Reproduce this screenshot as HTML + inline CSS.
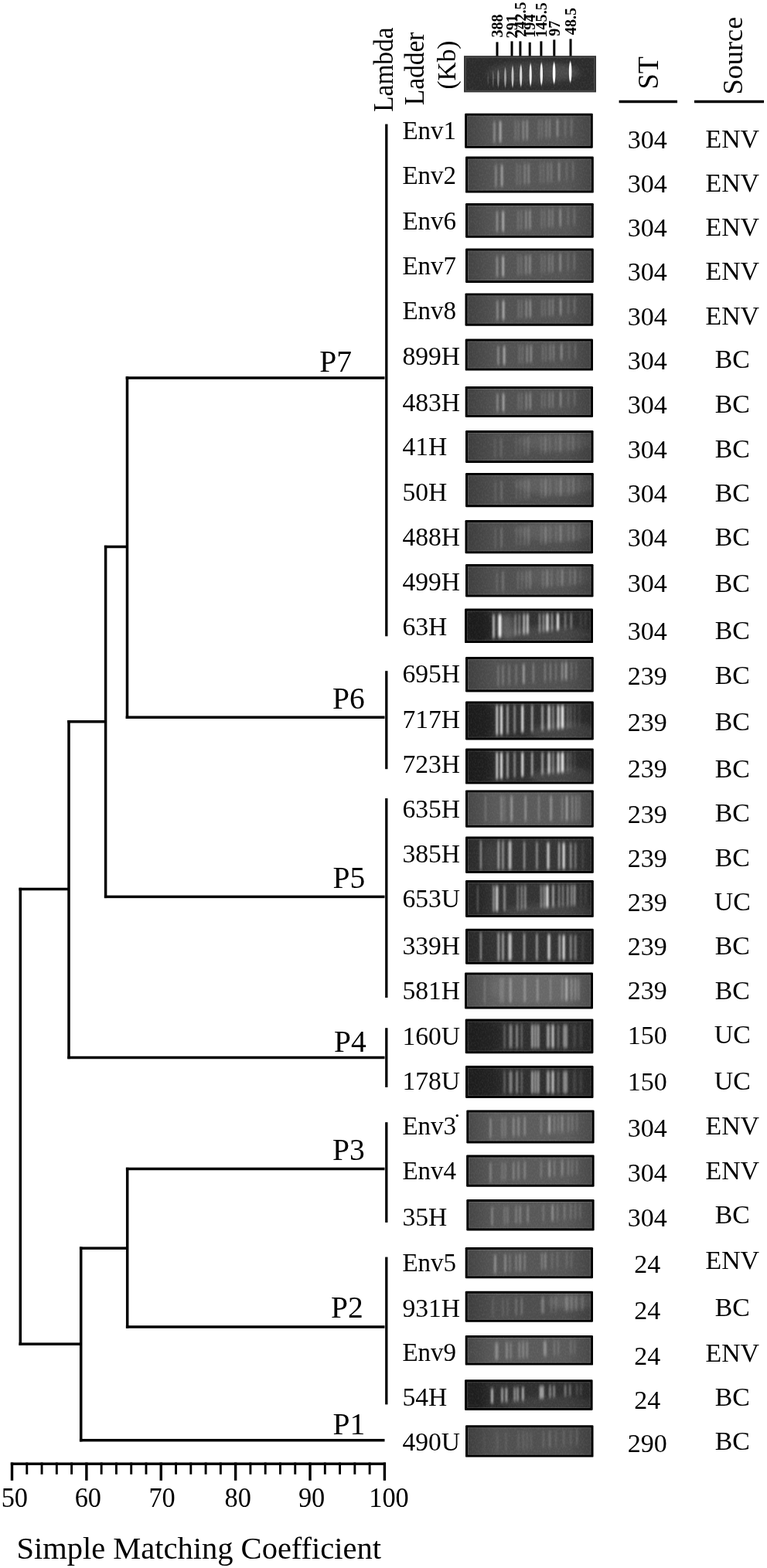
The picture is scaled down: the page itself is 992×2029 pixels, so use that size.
<!DOCTYPE html>
<html lang="en"><head><meta charset="utf-8"><title>PFGE dendrogram</title>
<style>html,body{margin:0;padding:0;background:#fff}svg{display:block}text{white-space:pre}</style>
</head><body>
<svg width="992" height="2029" viewBox="0 0 992 2029" font-family='"Liberation Serif", serif' fill="#000">
<defs><filter id="b" x="-20%" y="-20%" width="140%" height="140%"><feGaussianBlur stdDeviation="0.9 2.3"/></filter><linearGradient id="vg" x1="0" x2="1" y1="0" y2="0"><stop offset="0" stop-color="#000" stop-opacity=".22"/><stop offset=".22" stop-color="#000" stop-opacity="0"/><stop offset=".8" stop-color="#000" stop-opacity="0"/><stop offset="1" stop-color="#000" stop-opacity=".2"/></linearGradient><filter id="nz" x="0" y="0" width="100%" height="100%"><feTurbulence type="fractalNoise" baseFrequency="0.55 0.35" numOctaves="2" seed="7"/><feColorMatrix type="matrix" values="0 0 0 0 1  0 0 0 0 1  0 0 0 0 1  1.6 0 0 0 -0.62"/></filter><filter id="hz" x="-30%" y="-60%" width="160%" height="220%"><feGaussianBlur stdDeviation="5 3"/></filter><filter id="b2" x="-20%" y="-20%" width="140%" height="140%"><feGaussianBlur stdDeviation="0.7 1.8"/></filter></defs>
<rect width="100%" height="100%" fill="#fff"/>
<g id="tree">
<rect x="162.7" y="487.25" width="334.8" height="3.5"/>
<rect x="162.7" y="926.45" width="334.8" height="3.5"/>
<rect x="134.9" y="1158.65" width="362.6" height="3.5"/>
<rect x="87.3" y="1366.75" width="410.2" height="3.5"/>
<rect x="162.9" y="1510.75" width="334.6" height="3.5"/>
<rect x="162.9" y="1715.25" width="334.6" height="3.5"/>
<rect x="102.9" y="1861.95" width="394.6" height="3.5"/>
<rect x="162.75" y="487.2" width="3.5" height="442.8"/>
<rect x="134.9" y="705.75" width="29.6" height="3.5"/>
<rect x="134.85" y="705.8" width="3.5" height="456.3"/>
<rect x="87.3" y="932.05" width="49.3" height="3.5"/>
<rect x="87.25" y="932.0" width="3.5" height="438.2"/>
<rect x="24.5" y="1148.75" width="64.5" height="3.5"/>
<rect x="24.55" y="1148.8" width="3.5" height="592.2"/>
<rect x="24.5" y="1737.45" width="80.2" height="3.5"/>
<rect x="102.95" y="1613.5" width="3.5" height="251.9"/>
<rect x="102.9" y="1613.45" width="61.8" height="3.5"/>
<rect x="162.95" y="1510.8" width="3.5" height="208.0"/>
<rect x="498.15" y="160.6" width="3.3" height="662.7"/>
<rect x="498.15" y="868.2" width="3.3" height="127.0"/>
<rect x="498.15" y="1033.0" width="3.3" height="258.0"/>
<rect x="498.15" y="1330.2" width="3.3" height="76.7"/>
<rect x="498.15" y="1452.2" width="3.3" height="129.7"/>
<rect x="498.15" y="1626.6" width="3.3" height="190.8"/>
</g>
<text x="413.2" y="480.7" font-size="39.5" text-anchor="start">P7</text>
<text x="430.0" y="916.6" font-size="39.5" text-anchor="start">P6</text>
<text x="430.6" y="1149.4" font-size="39.5" text-anchor="start">P5</text>
<text x="432.0" y="1360.5" font-size="39.5" text-anchor="start">P4</text>
<text x="430.0" y="1500.6" font-size="39.5" text-anchor="start">P3</text>
<text x="428.0" y="1704.9" font-size="39.5" text-anchor="start">P2</text>
<text x="430.6" y="1856.1" font-size="39.5" text-anchor="start">P1</text>
<g id="axis">
<rect x="13.8" y="1892.50" width="485.2" height="3.4"/>
<rect x="13.80" y="1892.5" width="3.4" height="23.3"/>
<rect x="33.33" y="1892.5" width="2.9" height="15.3"/>
<rect x="52.60" y="1892.5" width="2.9" height="15.3"/>
<rect x="71.88" y="1892.5" width="2.9" height="15.3"/>
<rect x="91.15" y="1892.5" width="2.9" height="15.3"/>
<rect x="110.18" y="1892.5" width="3.4" height="23.3"/>
<rect x="129.71" y="1892.5" width="2.9" height="15.3"/>
<rect x="148.98" y="1892.5" width="2.9" height="15.3"/>
<rect x="168.26" y="1892.5" width="2.9" height="15.3"/>
<rect x="187.53" y="1892.5" width="2.9" height="15.3"/>
<rect x="206.56" y="1892.5" width="3.4" height="23.3"/>
<rect x="226.09" y="1892.5" width="2.9" height="15.3"/>
<rect x="245.36" y="1892.5" width="2.9" height="15.3"/>
<rect x="264.64" y="1892.5" width="2.9" height="15.3"/>
<rect x="283.91" y="1892.5" width="2.9" height="15.3"/>
<rect x="302.94" y="1892.5" width="3.4" height="23.3"/>
<rect x="322.47" y="1892.5" width="2.9" height="15.3"/>
<rect x="341.74" y="1892.5" width="2.9" height="15.3"/>
<rect x="361.02" y="1892.5" width="2.9" height="15.3"/>
<rect x="380.29" y="1892.5" width="2.9" height="15.3"/>
<rect x="399.32" y="1892.5" width="3.4" height="23.3"/>
<rect x="418.85" y="1892.5" width="2.9" height="15.3"/>
<rect x="438.12" y="1892.5" width="2.9" height="15.3"/>
<rect x="457.40" y="1892.5" width="2.9" height="15.3"/>
<rect x="476.67" y="1892.5" width="2.9" height="15.3"/>
<rect x="495.70" y="1892.5" width="3.4" height="23.3"/>
</g>
<text transform="translate(18.8,1949.8) scale(1,1.04)" font-size="34.3" text-anchor="middle">50</text>
<text transform="translate(113.8,1949.8) scale(1,1.04)" font-size="34.3" text-anchor="middle">60</text>
<text transform="translate(209.6,1949.8) scale(1,1.04)" font-size="34.3" text-anchor="middle">70</text>
<text transform="translate(307.7,1949.8) scale(1,1.04)" font-size="34.3" text-anchor="middle">80</text>
<text transform="translate(403.1,1949.8) scale(1,1.04)" font-size="34.3" text-anchor="middle">90</text>
<text transform="translate(503.0,1949.8) scale(1,1.04)" font-size="34.3" text-anchor="middle">100</text>
<text x="21.4" y="2016.8" font-size="40.5" text-anchor="start">Simple Matching Coefficient</text>
<text transform="translate(508.2,144.8) rotate(-90) scale(1.012,1.1)" font-size="33">Lambda</text>
<text transform="translate(548.4,136.2) rotate(-90) scale(1.012,1.08)" font-size="33">Ladder</text>
<text transform="translate(588.8,115.6) rotate(-90) scale(1.012,1.04)" font-size="33">(Kb)</text>
<text transform="translate(850.6,115.4) rotate(-90) scale(1,1.05)" font-size="36.3">ST</text>
<text transform="translate(960.0,122.5) rotate(-90)" font-size="36.3">Source</text>
<rect x="800.6" y="129.75" width="75.4" height="3.5"/>
<rect x="898.0" y="129.75" width="90.0" height="3.5"/>
<rect x="641.50" y="54.4" width="3.0" height="19.6"/>
<text transform="translate(649.8,48.6) rotate(-90)" font-size="20.2" font-weight="bold">388</text>
<rect x="660.50" y="53.4" width="3.0" height="20.6"/>
<text transform="translate(668.8,49.4) rotate(-90)" font-size="20.2" font-weight="bold">291</text>
<rect x="671.40" y="53.4" width="3.0" height="20.6"/>
<text transform="translate(679.7,47.8) rotate(-90)" font-size="20.2" font-weight="bold">242.5</text>
<rect x="683.70" y="54.8" width="3.0" height="19.2"/>
<text transform="translate(692.0,48.8) rotate(-90)" font-size="20.2" font-weight="bold">194</text>
<rect x="698.40" y="53.4" width="3.0" height="20.6"/>
<text transform="translate(706.7,48.6) rotate(-90)" font-size="20.2" font-weight="bold">145.5</text>
<rect x="715.30" y="51.4" width="3.0" height="22.6"/>
<text transform="translate(723.6,46.8) rotate(-90)" font-size="20.2" font-weight="bold">97</text>
<rect x="736.50" y="50.4" width="3.0" height="23.6"/>
<text transform="translate(744.8,45.2) rotate(-90)" font-size="20.2" font-weight="bold">48.5</text>
<g id="ladder">
<rect x="600" y="72.2" width="171" height="47.2" fill="#333"/>
<rect x="602.2" y="74.4" width="166.6" height="42.8" fill="#2b2b2b" stroke="#606060" stroke-width="0.7"/>
<clipPath id="cl"><rect x="602.6" y="74.8" width="165.8" height="42"/></clipPath>
<g clip-path="url(#cl)">
<g filter="url(#hz)"><ellipse cx="690" cy="94" rx="60" ry="14" fill="#fff" opacity=".09"/><ellipse cx="725" cy="93" rx="22" ry="10" fill="#fff" opacity=".06"/></g>
<rect x="602.6" y="74.8" width="165.8" height="42" fill="#fff" opacity=".10" filter="url(#nz)"/>
<g filter="url(#b2)" fill="#fff">
<ellipse cx="631.3" cy="102.9" rx="1.1" ry="7.1" opacity="0.12"/>
<ellipse cx="637.8" cy="102.2" rx="1.1" ry="10.1" opacity="0.2"/>
<ellipse cx="644.4" cy="101.5" rx="1.3" ry="11.3" opacity="0.38"/>
<ellipse cx="653.5" cy="100.3" rx="1.4" ry="12.5" opacity="0.5"/>
<ellipse cx="663.0" cy="99.1" rx="1.5" ry="13.7" opacity="0.68"/>
<ellipse cx="673.7" cy="97.9" rx="1.6" ry="13.9" opacity="0.8"/>
<ellipse cx="686.2" cy="96.7" rx="1.6" ry="14.2" opacity="0.9"/>
<ellipse cx="700.3" cy="95.8" rx="1.7" ry="14.2" opacity="0.95"/>
<ellipse cx="716.6" cy="94.4" rx="1.8" ry="13.7" opacity="1"/>
<ellipse cx="737.6" cy="93.0" rx="1.8" ry="13.2" opacity="1"/>
</g></g></g>
<g id="gels">
<clipPath id="c0"><rect x="604.1" y="149.7" width="159.7" height="39.1"/></clipPath>
<rect x="601.1" y="146.7" width="165.7" height="45.1" rx="1.2" fill="#000"/>
<rect x="604.1" y="149.7" width="159.7" height="39.1" fill="#555555"/>
<g clip-path="url(#c0)">
<g filter="url(#b)" fill="#fff">
<rect x="638.3" y="157.1" width="2.2" height="27.7" rx="1.1" opacity="0.38"/>
<rect x="645.8" y="156.8" width="2.6" height="27.3" rx="1.3" opacity="0.55"/>
<rect x="665.7" y="156.0" width="1.8" height="26.4" rx="0.9" opacity="0.20"/>
<rect x="669.7" y="155.8" width="1.8" height="26.2" rx="0.9" opacity="0.20"/>
<rect x="675.6" y="155.6" width="2.2" height="25.9" rx="1.1" opacity="0.32"/>
<rect x="680.5" y="155.3" width="2.4" height="25.7" rx="1.2" opacity="0.34"/>
<rect x="696.1" y="154.7" width="1.6" height="24.9" rx="0.8" opacity="0.20"/>
<rect x="700.1" y="154.5" width="1.6" height="24.7" rx="0.8" opacity="0.20"/>
<rect x="705.5" y="154.3" width="2.0" height="24.5" rx="1.0" opacity="0.26"/>
<rect x="710.0" y="154.1" width="2.0" height="24.3" rx="1.0" opacity="0.26"/>
<rect x="719.8" y="153.7" width="2.4" height="23.8" rx="1.2" opacity="0.34"/>
<rect x="730.2" y="153.3" width="1.8" height="23.3" rx="0.9" opacity="0.18"/>
<rect x="738.2" y="152.9" width="2.0" height="22.9" rx="1.0" opacity="0.22"/>
</g></g>
<rect x="604.1" y="149.7" width="159.7" height="39.1" fill="url(#vg)"/>
<rect x="604.1" y="149.7" width="159.7" height="39.1" fill="#fff" opacity=".09" filter="url(#nz)"/>
<rect x="604.6" y="150.2" width="158.7" height="38.1" fill="none" stroke="#fff" stroke-opacity=".16" stroke-width=".8"/>
<clipPath id="c1"><rect x="605.0" y="205.6" width="159.8" height="41.0"/></clipPath>
<rect x="602.0" y="202.6" width="165.8" height="47.0" rx="1.2" fill="#000"/>
<rect x="605.0" y="205.6" width="159.8" height="41.0" fill="#555555"/>
<g clip-path="url(#c1)">
<g filter="url(#b)" fill="#fff">
<rect x="640.3" y="213.3" width="2.2" height="28.9" rx="1.1" opacity="0.32"/>
<rect x="647.8" y="213.0" width="2.6" height="28.6" rx="1.3" opacity="0.47"/>
<rect x="667.7" y="212.1" width="1.8" height="27.6" rx="0.9" opacity="0.17"/>
<rect x="671.8" y="211.9" width="1.8" height="27.4" rx="0.9" opacity="0.17"/>
<rect x="677.6" y="211.6" width="2.2" height="27.1" rx="1.1" opacity="0.27"/>
<rect x="682.5" y="211.4" width="2.4" height="26.8" rx="1.2" opacity="0.29"/>
<rect x="698.1" y="210.8" width="1.6" height="26.0" rx="0.8" opacity="0.17"/>
<rect x="702.1" y="210.6" width="1.6" height="25.8" rx="0.8" opacity="0.17"/>
<rect x="707.5" y="210.3" width="2.0" height="25.6" rx="1.0" opacity="0.22"/>
<rect x="712.0" y="210.1" width="2.0" height="25.3" rx="1.0" opacity="0.22"/>
<rect x="721.9" y="209.7" width="2.4" height="24.8" rx="1.2" opacity="0.29"/>
<rect x="732.2" y="209.2" width="1.8" height="24.3" rx="0.9" opacity="0.15"/>
<rect x="740.2" y="208.9" width="2.0" height="23.9" rx="1.0" opacity="0.19"/>
</g></g>
<rect x="605.0" y="205.6" width="159.8" height="41.0" fill="url(#vg)"/>
<rect x="605.0" y="205.6" width="159.8" height="41.0" fill="#fff" opacity=".09" filter="url(#nz)"/>
<rect x="605.5" y="206.1" width="158.8" height="40.0" fill="none" stroke="#fff" stroke-opacity=".16" stroke-width=".8"/>
<clipPath id="c2"><rect x="605.0" y="266.0" width="159.8" height="38.8"/></clipPath>
<rect x="602.0" y="263.0" width="165.8" height="44.8" rx="1.2" fill="#000"/>
<rect x="605.0" y="266.0" width="159.8" height="38.8" fill="#555555"/>
<g clip-path="url(#c2)">
<g filter="url(#b)" fill="#fff">
<rect x="641.9" y="273.2" width="2.2" height="27.3" rx="1.1" opacity="0.38"/>
<rect x="649.4" y="272.9" width="2.6" height="26.9" rx="1.3" opacity="0.55"/>
<rect x="669.3" y="272.1" width="1.8" height="26.0" rx="0.9" opacity="0.20"/>
<rect x="673.4" y="271.9" width="1.8" height="25.8" rx="0.9" opacity="0.20"/>
<rect x="679.2" y="271.7" width="2.2" height="25.5" rx="1.1" opacity="0.32"/>
<rect x="684.2" y="271.4" width="2.4" height="25.3" rx="1.2" opacity="0.34"/>
<rect x="699.7" y="270.8" width="1.6" height="24.6" rx="0.8" opacity="0.20"/>
<rect x="703.7" y="270.6" width="1.6" height="24.4" rx="0.8" opacity="0.20"/>
<rect x="709.2" y="270.4" width="2.0" height="24.1" rx="1.0" opacity="0.26"/>
<rect x="713.6" y="270.2" width="2.0" height="23.9" rx="1.0" opacity="0.26"/>
<rect x="723.5" y="269.8" width="2.4" height="23.4" rx="1.2" opacity="0.34"/>
<rect x="733.9" y="269.4" width="1.8" height="22.9" rx="0.9" opacity="0.18"/>
<rect x="741.8" y="269.0" width="2.0" height="22.5" rx="1.0" opacity="0.22"/>
</g></g>
<rect x="605.0" y="266.0" width="159.8" height="38.8" fill="url(#vg)"/>
<rect x="605.0" y="266.0" width="159.8" height="38.8" fill="#fff" opacity=".09" filter="url(#nz)"/>
<rect x="605.5" y="266.5" width="158.8" height="37.8" fill="none" stroke="#fff" stroke-opacity=".16" stroke-width=".8"/>
<clipPath id="c3"><rect x="605.0" y="324.5" width="159.8" height="38.5"/></clipPath>
<rect x="602.0" y="321.5" width="165.8" height="44.5" rx="1.2" fill="#000"/>
<rect x="605.0" y="324.5" width="159.8" height="38.5" fill="#535353"/>
<g clip-path="url(#c3)">
<g filter="url(#b)" fill="#fff">
<rect x="641.9" y="331.7" width="2.2" height="27.1" rx="1.1" opacity="0.38"/>
<rect x="649.4" y="331.3" width="2.6" height="26.7" rx="1.3" opacity="0.55"/>
<rect x="669.3" y="330.5" width="1.8" height="25.8" rx="0.9" opacity="0.20"/>
<rect x="673.4" y="330.4" width="1.8" height="25.6" rx="0.9" opacity="0.20"/>
<rect x="679.2" y="330.1" width="2.2" height="25.3" rx="1.1" opacity="0.32"/>
<rect x="684.2" y="329.9" width="2.4" height="25.1" rx="1.2" opacity="0.34"/>
<rect x="699.7" y="329.3" width="1.6" height="24.4" rx="0.8" opacity="0.20"/>
<rect x="703.7" y="329.1" width="1.6" height="24.2" rx="0.8" opacity="0.20"/>
<rect x="709.2" y="328.9" width="2.0" height="23.9" rx="1.0" opacity="0.26"/>
<rect x="713.6" y="328.7" width="2.0" height="23.7" rx="1.0" opacity="0.26"/>
<rect x="723.5" y="328.3" width="2.4" height="23.2" rx="1.2" opacity="0.34"/>
<rect x="733.9" y="327.9" width="1.8" height="22.8" rx="0.9" opacity="0.18"/>
<rect x="741.8" y="327.5" width="2.0" height="22.4" rx="1.0" opacity="0.22"/>
</g></g>
<rect x="605.0" y="324.5" width="159.8" height="38.5" fill="url(#vg)"/>
<rect x="605.0" y="324.5" width="159.8" height="38.5" fill="#fff" opacity=".09" filter="url(#nz)"/>
<rect x="605.5" y="325.0" width="158.8" height="37.5" fill="none" stroke="#fff" stroke-opacity=".16" stroke-width=".8"/>
<clipPath id="c4"><rect x="604.5" y="382.4" width="159.8" height="36.3"/></clipPath>
<rect x="601.5" y="379.4" width="165.8" height="42.3" rx="1.2" fill="#000"/>
<rect x="604.5" y="382.4" width="159.8" height="36.3" fill="#515151"/>
<g clip-path="url(#c4)">
<g filter="url(#b)" fill="#fff">
<rect x="642.3" y="389.1" width="2.2" height="25.5" rx="1.1" opacity="0.40"/>
<rect x="649.8" y="388.8" width="2.6" height="25.2" rx="1.3" opacity="0.58"/>
<rect x="669.7" y="388.1" width="1.8" height="24.3" rx="0.9" opacity="0.21"/>
<rect x="673.8" y="387.9" width="1.8" height="24.1" rx="0.9" opacity="0.21"/>
<rect x="679.6" y="387.7" width="2.2" height="23.9" rx="1.1" opacity="0.34"/>
<rect x="684.6" y="387.5" width="2.4" height="23.6" rx="1.2" opacity="0.36"/>
<rect x="700.1" y="386.9" width="1.6" height="23.0" rx="0.8" opacity="0.21"/>
<rect x="704.1" y="386.7" width="1.6" height="22.8" rx="0.8" opacity="0.21"/>
<rect x="709.6" y="386.5" width="2.0" height="22.5" rx="1.0" opacity="0.27"/>
<rect x="714.0" y="386.3" width="2.0" height="22.3" rx="1.0" opacity="0.27"/>
<rect x="723.9" y="385.9" width="2.4" height="21.9" rx="1.2" opacity="0.36"/>
<rect x="734.3" y="385.5" width="1.8" height="21.4" rx="0.9" opacity="0.19"/>
<rect x="742.2" y="385.2" width="2.0" height="21.1" rx="1.0" opacity="0.23"/>
</g></g>
<rect x="604.5" y="382.4" width="159.8" height="36.3" fill="url(#vg)"/>
<rect x="604.5" y="382.4" width="159.8" height="36.3" fill="#fff" opacity=".09" filter="url(#nz)"/>
<rect x="605.0" y="382.9" width="158.8" height="35.3" fill="none" stroke="#fff" stroke-opacity=".16" stroke-width=".8"/>
<clipPath id="c5"><rect x="604.7" y="441.5" width="159.3" height="35.1"/></clipPath>
<rect x="601.7" y="438.5" width="165.3" height="41.1" rx="1.2" fill="#000"/>
<rect x="604.7" y="441.5" width="159.3" height="35.1" fill="#515151"/>
<g clip-path="url(#c5)">
<g filter="url(#b)" fill="#fff">
<rect x="643.3" y="448.0" width="2.2" height="24.6" rx="1.1" opacity="0.38"/>
<rect x="650.8" y="447.7" width="2.6" height="24.3" rx="1.3" opacity="0.55"/>
<rect x="670.8" y="446.9" width="1.8" height="23.5" rx="0.9" opacity="0.20"/>
<rect x="674.8" y="446.8" width="1.8" height="23.3" rx="0.9" opacity="0.20"/>
<rect x="680.6" y="446.6" width="2.2" height="23.0" rx="1.1" opacity="0.32"/>
<rect x="685.6" y="446.4" width="2.4" height="22.8" rx="1.2" opacity="0.34"/>
<rect x="701.1" y="445.8" width="1.6" height="22.2" rx="0.8" opacity="0.20"/>
<rect x="705.1" y="445.6" width="1.6" height="22.0" rx="0.8" opacity="0.20"/>
<rect x="710.6" y="445.4" width="2.0" height="21.7" rx="1.0" opacity="0.26"/>
<rect x="715.0" y="445.3" width="2.0" height="21.6" rx="1.0" opacity="0.26"/>
<rect x="724.9" y="444.9" width="2.4" height="21.1" rx="1.2" opacity="0.34"/>
<rect x="735.3" y="444.5" width="1.8" height="20.7" rx="0.9" opacity="0.18"/>
<rect x="743.2" y="444.2" width="2.0" height="20.3" rx="1.0" opacity="0.22"/>
</g></g>
<rect x="604.7" y="441.5" width="159.3" height="35.1" fill="url(#vg)"/>
<rect x="604.7" y="441.5" width="159.3" height="35.1" fill="#fff" opacity=".09" filter="url(#nz)"/>
<rect x="605.2" y="442.0" width="158.3" height="34.1" fill="none" stroke="#fff" stroke-opacity=".16" stroke-width=".8"/>
<clipPath id="c6"><rect x="604.7" y="503.0" width="159.3" height="33.9"/></clipPath>
<rect x="601.7" y="500.0" width="165.3" height="39.9" rx="1.2" fill="#000"/>
<rect x="604.7" y="503.0" width="159.3" height="33.9" fill="#515151"/>
<g clip-path="url(#c6)">
<g filter="url(#b)" fill="#fff">
<rect x="642.3" y="509.3" width="2.2" height="23.8" rx="1.1" opacity="0.36"/>
<rect x="649.8" y="509.0" width="2.6" height="23.5" rx="1.3" opacity="0.52"/>
<rect x="669.7" y="508.3" width="1.8" height="22.7" rx="0.9" opacity="0.19"/>
<rect x="673.8" y="508.1" width="1.8" height="22.5" rx="0.9" opacity="0.19"/>
<rect x="679.6" y="507.9" width="2.2" height="22.3" rx="1.1" opacity="0.30"/>
<rect x="684.6" y="507.7" width="2.4" height="22.1" rx="1.2" opacity="0.32"/>
<rect x="700.1" y="507.2" width="1.6" height="21.5" rx="0.8" opacity="0.19"/>
<rect x="704.1" y="507.0" width="1.6" height="21.3" rx="0.8" opacity="0.19"/>
<rect x="709.6" y="506.8" width="2.0" height="21.0" rx="1.0" opacity="0.25"/>
<rect x="714.0" y="506.7" width="2.0" height="20.9" rx="1.0" opacity="0.25"/>
<rect x="723.9" y="506.3" width="2.4" height="20.4" rx="1.2" opacity="0.32"/>
<rect x="734.3" y="505.9" width="1.8" height="20.0" rx="0.9" opacity="0.17"/>
<rect x="742.2" y="505.6" width="2.0" height="19.7" rx="1.0" opacity="0.21"/>
</g></g>
<rect x="604.7" y="503.0" width="159.3" height="33.9" fill="url(#vg)"/>
<rect x="604.7" y="503.0" width="159.3" height="33.9" fill="#fff" opacity=".09" filter="url(#nz)"/>
<rect x="605.2" y="503.5" width="158.3" height="32.9" fill="none" stroke="#fff" stroke-opacity=".16" stroke-width=".8"/>
<clipPath id="c7"><rect x="605.0" y="560.0" width="159.5" height="36.0"/></clipPath>
<rect x="602.0" y="557.0" width="165.5" height="42.0" rx="1.2" fill="#000"/>
<rect x="605.0" y="560.0" width="159.5" height="36.0" fill="#4d4d4d"/>
<g clip-path="url(#c7)">
<g filter="url(#hz)">
<ellipse cx="721.0" cy="570.8" rx="50" ry="12.6" fill="#fff" opacity="0.07"/>
</g>
<g filter="url(#b)" fill="#fff">
<rect x="639.3" y="566.8" width="2.2" height="25.5" rx="1.1" opacity="0.10"/>
<rect x="646.9" y="566.5" width="2.4" height="25.1" rx="1.2" opacity="0.16"/>
<rect x="666.6" y="565.7" width="2" height="24.3" rx="1.0" opacity="0.10"/>
<rect x="671.7" y="565.5" width="2" height="24.0" rx="1.0" opacity="0.10"/>
<rect x="677.2" y="565.3" width="2.2" height="23.8" rx="1.1" opacity="0.13"/>
<rect x="681.9" y="565.1" width="2.4" height="23.6" rx="1.2" opacity="0.16"/>
<rect x="698.9" y="564.5" width="2" height="22.8" rx="1.0" opacity="0.12"/>
<rect x="704.0" y="564.3" width="2.6" height="22.6" rx="1.3" opacity="0.19"/>
<rect x="710.0" y="564.1" width="2" height="22.3" rx="1.0" opacity="0.12"/>
<rect x="718.0" y="563.7" width="2" height="22.0" rx="1.0" opacity="0.10"/>
<rect x="723.4" y="563.5" width="2.6" height="21.7" rx="1.3" opacity="0.19"/>
<rect x="734.1" y="563.1" width="2.2" height="21.3" rx="1.1" opacity="0.12"/>
<rect x="739.9" y="562.9" width="2.6" height="21.0" rx="1.3" opacity="0.16"/>
<rect x="747.2" y="562.6" width="2.2" height="20.7" rx="1.1" opacity="0.08"/>
</g></g>
<rect x="605.0" y="560.0" width="159.5" height="36.0" fill="url(#vg)"/>
<rect x="605.0" y="560.0" width="159.5" height="36.0" fill="#fff" opacity=".09" filter="url(#nz)"/>
<rect x="605.5" y="560.5" width="158.5" height="35.0" fill="none" stroke="#fff" stroke-opacity=".16" stroke-width=".8"/>
<clipPath id="c8"><rect x="605.0" y="615.0" width="159.8" height="38.2"/></clipPath>
<rect x="602.0" y="612.0" width="165.8" height="44.2" rx="1.2" fill="#000"/>
<rect x="605.0" y="615.0" width="159.8" height="38.2" fill="#4d4d4d"/>
<g clip-path="url(#c8)">
<g filter="url(#hz)">
<ellipse cx="721.0" cy="626.5" rx="55" ry="13.4" fill="#fff" opacity="0.09"/>
</g>
<g filter="url(#b)" fill="#fff">
<rect x="639.7" y="622.2" width="2.2" height="27.0" rx="1.1" opacity="0.11"/>
<rect x="647.3" y="621.9" width="2.4" height="26.6" rx="1.2" opacity="0.18"/>
<rect x="667.0" y="621.1" width="2" height="25.7" rx="1.0" opacity="0.11"/>
<rect x="672.1" y="620.9" width="2" height="25.5" rx="1.0" opacity="0.11"/>
<rect x="677.6" y="620.6" width="2.2" height="25.2" rx="1.1" opacity="0.14"/>
<rect x="682.3" y="620.4" width="2.4" height="25.0" rx="1.2" opacity="0.18"/>
<rect x="699.3" y="619.7" width="2" height="24.2" rx="1.0" opacity="0.14"/>
<rect x="704.4" y="619.5" width="2.6" height="23.9" rx="1.3" opacity="0.22"/>
<rect x="710.4" y="619.3" width="2" height="23.7" rx="1.0" opacity="0.14"/>
<rect x="718.4" y="619.0" width="2" height="23.3" rx="1.0" opacity="0.11"/>
<rect x="723.8" y="618.7" width="2.6" height="23.0" rx="1.3" opacity="0.22"/>
<rect x="734.5" y="618.3" width="2.2" height="22.5" rx="1.1" opacity="0.14"/>
<rect x="740.3" y="618.0" width="2.6" height="22.3" rx="1.3" opacity="0.18"/>
<rect x="747.6" y="617.8" width="2.2" height="21.9" rx="1.1" opacity="0.09"/>
</g></g>
<rect x="605.0" y="615.0" width="159.8" height="38.2" fill="url(#vg)"/>
<rect x="605.0" y="615.0" width="159.8" height="38.2" fill="#fff" opacity=".09" filter="url(#nz)"/>
<rect x="605.5" y="615.5" width="158.8" height="37.2" fill="none" stroke="#fff" stroke-opacity=".16" stroke-width=".8"/>
<clipPath id="c9"><rect x="604.5" y="676.0" width="159.5" height="37.3"/></clipPath>
<rect x="601.5" y="673.0" width="165.5" height="43.3" rx="1.2" fill="#000"/>
<rect x="604.5" y="676.0" width="159.5" height="37.3" fill="#4d4d4d"/>
<g clip-path="url(#c9)">
<g filter="url(#hz)">
<ellipse cx="721.0" cy="687.2" rx="55" ry="13.1" fill="#fff" opacity="0.08"/>
</g>
<g filter="url(#b)" fill="#fff">
<rect x="639.7" y="683.0" width="2.2" height="26.4" rx="1.1" opacity="0.12"/>
<rect x="647.3" y="682.7" width="2.4" height="26.0" rx="1.2" opacity="0.20"/>
<rect x="667.0" y="681.9" width="2" height="25.1" rx="1.0" opacity="0.12"/>
<rect x="672.1" y="681.7" width="2" height="24.9" rx="1.0" opacity="0.12"/>
<rect x="677.6" y="681.5" width="2.2" height="24.6" rx="1.1" opacity="0.16"/>
<rect x="682.3" y="681.3" width="2.4" height="24.4" rx="1.2" opacity="0.20"/>
<rect x="699.3" y="680.6" width="2" height="23.6" rx="1.0" opacity="0.15"/>
<rect x="704.4" y="680.4" width="2.6" height="23.4" rx="1.3" opacity="0.24"/>
<rect x="710.4" y="680.2" width="2" height="23.1" rx="1.0" opacity="0.15"/>
<rect x="718.4" y="679.9" width="2" height="22.8" rx="1.0" opacity="0.12"/>
<rect x="723.8" y="679.6" width="2.6" height="22.5" rx="1.3" opacity="0.24"/>
<rect x="734.5" y="679.2" width="2.2" height="22.0" rx="1.1" opacity="0.15"/>
<rect x="740.3" y="679.0" width="2.6" height="21.7" rx="1.3" opacity="0.20"/>
<rect x="747.6" y="678.7" width="2.2" height="21.4" rx="1.1" opacity="0.10"/>
</g></g>
<rect x="604.5" y="676.0" width="159.5" height="37.3" fill="url(#vg)"/>
<rect x="604.5" y="676.0" width="159.5" height="37.3" fill="#fff" opacity=".09" filter="url(#nz)"/>
<rect x="605.0" y="676.5" width="158.5" height="36.3" fill="none" stroke="#fff" stroke-opacity=".16" stroke-width=".8"/>
<clipPath id="c10"><rect x="605.0" y="733.0" width="159.5" height="36.5"/></clipPath>
<rect x="602.0" y="730.0" width="165.5" height="42.5" rx="1.2" fill="#000"/>
<rect x="605.0" y="733.0" width="159.5" height="36.5" fill="#4f4f4f"/>
<g clip-path="url(#c10)">
<g filter="url(#hz)">
<ellipse cx="719.0" cy="745.8" rx="50" ry="12.8" fill="#fff" opacity="0.05"/>
</g>
<g filter="url(#b)" fill="#fff">
<rect x="641.7" y="739.8" width="2.2" height="25.7" rx="1.1" opacity="0.13"/>
<rect x="649.3" y="739.5" width="2.4" height="25.4" rx="1.2" opacity="0.22"/>
<rect x="669.0" y="738.7" width="2" height="24.5" rx="1.0" opacity="0.13"/>
<rect x="674.1" y="738.5" width="2" height="24.3" rx="1.0" opacity="0.13"/>
<rect x="679.6" y="738.3" width="2.2" height="24.0" rx="1.1" opacity="0.18"/>
<rect x="684.4" y="738.1" width="2.4" height="23.8" rx="1.2" opacity="0.22"/>
<rect x="701.3" y="737.5" width="2" height="23.0" rx="1.0" opacity="0.17"/>
<rect x="706.4" y="737.2" width="2.6" height="22.8" rx="1.3" opacity="0.26"/>
<rect x="712.4" y="737.0" width="2" height="22.5" rx="1.0" opacity="0.17"/>
<rect x="720.5" y="736.7" width="2" height="22.2" rx="1.0" opacity="0.13"/>
<rect x="725.8" y="736.5" width="2.6" height="21.9" rx="1.3" opacity="0.26"/>
<rect x="736.5" y="736.1" width="2.2" height="21.4" rx="1.1" opacity="0.17"/>
<rect x="742.3" y="735.8" width="2.6" height="21.2" rx="1.3" opacity="0.22"/>
<rect x="749.6" y="735.6" width="2.2" height="20.9" rx="1.1" opacity="0.11"/>
</g></g>
<rect x="605.0" y="733.0" width="159.5" height="36.5" fill="url(#vg)"/>
<rect x="605.0" y="733.0" width="159.5" height="36.5" fill="#fff" opacity=".09" filter="url(#nz)"/>
<rect x="605.5" y="733.5" width="158.5" height="35.5" fill="none" stroke="#fff" stroke-opacity=".16" stroke-width=".8"/>
<clipPath id="c11"><rect x="604.0" y="790.5" width="160.0" height="38.6"/></clipPath>
<rect x="601.0" y="787.5" width="166.0" height="44.6" rx="1.2" fill="#000"/>
<rect x="604.0" y="790.5" width="160.0" height="38.6" fill="#303030"/>
<g clip-path="url(#c11)">
<g filter="url(#hz)">
<ellipse cx="618.2" cy="809.8" rx="18" ry="27.0" fill="#000" opacity="0.35"/>
<ellipse cx="711.0" cy="821.4" rx="55" ry="11.6" fill="#fff" opacity="0.1"/>
<ellipse cx="655.5" cy="811.7" rx="9" ry="17.4" fill="#fff" opacity="0.22"/>
</g>
<g filter="url(#b)" fill="#fff">
<rect x="637.1" y="795.0" width="2.6" height="31.1" rx="1.3" opacity="0.70"/>
<rect x="644.5" y="794.8" width="4.0" height="30.2" rx="2.0" opacity="0.95"/>
<rect x="665.6" y="794.5" width="2" height="28.0" rx="1.0" opacity="0.45"/>
<rect x="670.7" y="794.4" width="2" height="27.5" rx="1.0" opacity="0.45"/>
<rect x="676.5" y="794.3" width="2.4" height="26.8" rx="1.2" opacity="0.70"/>
<rect x="680.9" y="794.2" width="2.8" height="26.3" rx="1.4" opacity="0.75"/>
<rect x="696.9" y="793.9" width="2" height="24.6" rx="1.0" opacity="0.50"/>
<rect x="701.9" y="793.8" width="2" height="24.0" rx="1.0" opacity="0.50"/>
<rect x="706.1" y="793.7" width="3.6" height="23.5" rx="1.8" opacity="0.75"/>
<rect x="713.0" y="793.6" width="2" height="22.8" rx="1.0" opacity="0.55"/>
<rect x="719.9" y="793.5" width="3.2" height="22.0" rx="1.6" opacity="0.85"/>
<rect x="730.1" y="793.3" width="2" height="20.9" rx="1.0" opacity="0.40"/>
<rect x="737.6" y="793.2" width="2.4" height="20.1" rx="1.2" opacity="0.40"/>
<rect x="750.3" y="793.0" width="2" height="18.7" rx="1.0" opacity="0.15"/>
<rect x="756.3" y="792.9" width="2" height="18.0" rx="1.0" opacity="0.15"/>
</g></g>
<rect x="604.0" y="790.5" width="160.0" height="38.6" fill="url(#vg)"/>
<rect x="604.0" y="790.5" width="160.0" height="38.6" fill="#fff" opacity=".09" filter="url(#nz)"/>
<rect x="604.5" y="791.0" width="159.0" height="37.6" fill="none" stroke="#fff" stroke-opacity=".16" stroke-width=".8"/>
<clipPath id="c12"><rect x="605.0" y="853.0" width="159.8" height="39.4"/></clipPath>
<rect x="602.0" y="850.0" width="165.8" height="45.4" rx="1.2" fill="#000"/>
<rect x="605.0" y="853.0" width="159.8" height="39.4" fill="#505050"/>
<g clip-path="url(#c12)">
<g filter="url(#b)" fill="#fff">
<rect x="643.4" y="860.3" width="2" height="27.7" rx="1.0" opacity="0.24"/>
<rect x="649.5" y="860.0" width="2" height="27.4" rx="1.0" opacity="0.28"/>
<rect x="657.5" y="859.7" width="2" height="27.0" rx="1.0" opacity="0.24"/>
<rect x="666.6" y="859.3" width="2" height="26.5" rx="1.0" opacity="0.22"/>
<rect x="676.0" y="858.9" width="2.6" height="26.1" rx="1.3" opacity="0.45"/>
<rect x="688.8" y="858.3" width="2" height="25.5" rx="1.0" opacity="0.28"/>
<rect x="703.9" y="857.7" width="2" height="24.7" rx="1.0" opacity="0.26"/>
<rect x="711.0" y="857.4" width="2" height="24.4" rx="1.0" opacity="0.24"/>
<rect x="718.0" y="857.1" width="2" height="24.1" rx="1.0" opacity="0.20"/>
<rect x="726.0" y="856.8" width="2.2" height="23.7" rx="1.1" opacity="0.36"/>
<rect x="730.8" y="856.5" width="2.6" height="23.4" rx="1.3" opacity="0.45"/>
<rect x="738.2" y="856.2" width="2" height="23.1" rx="1.0" opacity="0.20"/>
<rect x="744.2" y="856.0" width="2" height="22.8" rx="1.0" opacity="0.15"/>
</g></g>
<rect x="605.0" y="853.0" width="159.8" height="39.4" fill="url(#vg)"/>
<rect x="605.0" y="853.0" width="159.8" height="39.4" fill="#fff" opacity=".09" filter="url(#nz)"/>
<rect x="605.5" y="853.5" width="158.8" height="38.4" fill="none" stroke="#fff" stroke-opacity=".16" stroke-width=".8"/>
<clipPath id="c13"><rect x="605.0" y="910.5" width="159.8" height="44.0"/></clipPath>
<rect x="602.0" y="907.5" width="165.8" height="50.0" rx="1.2" fill="#000"/>
<rect x="605.0" y="910.5" width="159.8" height="44.0" fill="#2e2e2e"/>
<g clip-path="url(#c13)">
<g filter="url(#hz)">
<ellipse cx="618.2" cy="932.5" rx="20" ry="30.8" fill="#000" opacity="0.3"/>
<ellipse cx="731.1" cy="947.9" rx="45" ry="13.2" fill="#fff" opacity="0.1"/>
</g>
<g filter="url(#b)" fill="#fff">
<rect x="641.5" y="912.3" width="2.6" height="39.2" rx="1.3" opacity="0.80"/>
<rect x="647.0" y="912.3" width="3" height="38.6" rx="1.5" opacity="0.85"/>
<rect x="655.3" y="912.3" width="2.4" height="37.8" rx="1.2" opacity="0.60"/>
<rect x="664.5" y="912.3" width="2.2" height="36.9" rx="1.1" opacity="0.50"/>
<rect x="674.2" y="912.3" width="3" height="35.8" rx="1.5" opacity="0.85"/>
<rect x="687.0" y="912.3" width="2.4" height="34.6" rx="1.2" opacity="0.60"/>
<rect x="700.3" y="912.3" width="2.4" height="33.2" rx="1.2" opacity="0.60"/>
<rect x="708.4" y="912.3" width="3.2" height="32.4" rx="1.6" opacity="0.75"/>
<rect x="714.4" y="912.3" width="2" height="31.8" rx="1.0" opacity="0.50"/>
<rect x="720.6" y="912.3" width="3" height="31.1" rx="1.5" opacity="0.80"/>
<rect x="725.7" y="912.3" width="3.6" height="30.6" rx="1.8" opacity="0.90"/>
<rect x="733.2" y="912.3" width="2" height="29.9" rx="1.0" opacity="0.30"/>
<rect x="737.2" y="912.3" width="2" height="29.5" rx="1.0" opacity="0.25"/>
<rect x="742.2" y="912.3" width="2" height="29.0" rx="1.0" opacity="0.18"/>
<rect x="748.3" y="912.3" width="2" height="28.4" rx="1.0" opacity="0.12"/>
</g></g>
<rect x="605.0" y="910.5" width="159.8" height="44.0" fill="url(#vg)"/>
<rect x="605.0" y="910.5" width="159.8" height="44.0" fill="#fff" opacity=".09" filter="url(#nz)"/>
<rect x="605.5" y="911.0" width="158.8" height="43.0" fill="none" stroke="#fff" stroke-opacity=".16" stroke-width=".8"/>
<clipPath id="c14"><rect x="605.0" y="971.6" width="159.8" height="40.0"/></clipPath>
<rect x="602.0" y="968.6" width="165.8" height="46.0" rx="1.2" fill="#000"/>
<rect x="605.0" y="971.6" width="159.8" height="40.0" fill="#2e2e2e"/>
<g clip-path="url(#c14)">
<g filter="url(#hz)">
<ellipse cx="618.2" cy="991.6" rx="20" ry="28.0" fill="#000" opacity="0.3"/>
<ellipse cx="731.1" cy="1005.6" rx="45" ry="12.0" fill="#fff" opacity="0.1"/>
</g>
<g filter="url(#b)" fill="#fff">
<rect x="641.5" y="973.2" width="2.6" height="35.5" rx="1.3" opacity="0.80"/>
<rect x="647.0" y="973.2" width="3" height="34.9" rx="1.5" opacity="0.85"/>
<rect x="655.3" y="973.2" width="2.4" height="34.0" rx="1.2" opacity="0.60"/>
<rect x="664.5" y="973.2" width="2.2" height="33.1" rx="1.1" opacity="0.50"/>
<rect x="674.2" y="973.2" width="3" height="32.0" rx="1.5" opacity="0.85"/>
<rect x="687.0" y="973.2" width="2.4" height="30.7" rx="1.2" opacity="0.60"/>
<rect x="700.3" y="973.2" width="2.4" height="29.3" rx="1.2" opacity="0.60"/>
<rect x="708.4" y="973.2" width="3.2" height="28.4" rx="1.6" opacity="0.75"/>
<rect x="714.4" y="973.2" width="2" height="27.9" rx="1.0" opacity="0.50"/>
<rect x="720.6" y="973.2" width="3" height="27.2" rx="1.5" opacity="0.80"/>
<rect x="725.7" y="973.2" width="3.6" height="26.6" rx="1.8" opacity="0.90"/>
<rect x="733.2" y="973.2" width="2" height="25.9" rx="1.0" opacity="0.30"/>
<rect x="737.2" y="973.2" width="2" height="25.5" rx="1.0" opacity="0.22"/>
<rect x="742.2" y="973.2" width="2" height="25.0" rx="1.0" opacity="0.12"/>
</g></g>
<rect x="605.0" y="971.6" width="159.8" height="40.0" fill="url(#vg)"/>
<rect x="605.0" y="971.6" width="159.8" height="40.0" fill="#fff" opacity=".09" filter="url(#nz)"/>
<rect x="605.5" y="972.1" width="158.8" height="39.0" fill="none" stroke="#fff" stroke-opacity=".16" stroke-width=".8"/>
<clipPath id="c15"><rect x="605.0" y="1025.4" width="159.8" height="42.4"/></clipPath>
<rect x="602.0" y="1022.4" width="165.8" height="48.4" rx="1.2" fill="#000"/>
<rect x="605.0" y="1025.4" width="159.8" height="42.4" fill="#595959"/>
<g clip-path="url(#c15)">
<g filter="url(#b)" fill="#fff">
<rect x="626.9" y="1029.6" width="2" height="33.9" rx="1.0" opacity="0.22"/>
<rect x="647.2" y="1029.6" width="2.6" height="33.6" rx="1.3" opacity="0.25"/>
<rect x="651.5" y="1029.6" width="2" height="33.6" rx="1.0" opacity="0.15"/>
<rect x="660.1" y="1029.6" width="3" height="33.4" rx="1.5" opacity="0.35"/>
<rect x="678.4" y="1029.6" width="2.6" height="33.1" rx="1.3" opacity="0.32"/>
<rect x="695.8" y="1029.6" width="2.2" height="32.8" rx="1.1" opacity="0.22"/>
<rect x="711.1" y="1029.6" width="3" height="32.6" rx="1.5" opacity="0.32"/>
<rect x="726.1" y="1029.6" width="2" height="32.3" rx="1.0" opacity="0.20"/>
<rect x="731.8" y="1029.6" width="2.6" height="32.2" rx="1.3" opacity="0.42"/>
<rect x="739.2" y="1029.6" width="2" height="32.1" rx="1.0" opacity="0.30"/>
<rect x="744.2" y="1029.6" width="2" height="32.0" rx="1.0" opacity="0.30"/>
<rect x="748.3" y="1029.6" width="2" height="32.0" rx="1.0" opacity="0.25"/>
</g></g>
<rect x="605.0" y="1025.4" width="159.8" height="42.4" fill="url(#vg)"/>
<rect x="605.0" y="1025.4" width="159.8" height="42.4" fill="#fff" opacity=".09" filter="url(#nz)"/>
<rect x="605.5" y="1025.9" width="158.8" height="41.4" fill="none" stroke="#fff" stroke-opacity=".16" stroke-width=".8"/>
<clipPath id="c16"><rect x="605.0" y="1085.5" width="159.8" height="41.5"/></clipPath>
<rect x="602.0" y="1082.5" width="165.8" height="47.5" rx="1.2" fill="#000"/>
<rect x="605.0" y="1085.5" width="159.8" height="41.5" fill="#343434"/>
<g clip-path="url(#c16)">
<g filter="url(#hz)">
<ellipse cx="633.3" cy="1110.4" rx="10" ry="20.8" fill="#fff" opacity="0.06"/>
</g>
<g filter="url(#b)" fill="#fff">
<rect x="620.8" y="1087.2" width="2.2" height="38.6" rx="1.1" opacity="0.55"/>
<rect x="643.5" y="1087.6" width="2.6" height="38.0" rx="1.3" opacity="0.55"/>
<rect x="649.3" y="1087.8" width="2.4" height="37.8" rx="1.2" opacity="0.50"/>
<rect x="657.6" y="1088.1" width="4" height="37.5" rx="2.0" opacity="0.65"/>
<rect x="677.0" y="1088.7" width="2.2" height="36.8" rx="1.1" opacity="0.50"/>
<rect x="693.3" y="1089.2" width="2.2" height="36.1" rx="1.1" opacity="0.50"/>
<rect x="707.4" y="1089.7" width="3.2" height="35.6" rx="1.6" opacity="0.75"/>
<rect x="722.0" y="1090.1" width="2.2" height="35.0" rx="1.1" opacity="0.60"/>
<rect x="727.6" y="1090.3" width="3" height="34.8" rx="1.5" opacity="0.85"/>
<rect x="736.9" y="1090.6" width="2.6" height="34.5" rx="1.3" opacity="0.45"/>
<rect x="742.9" y="1090.8" width="2.6" height="34.2" rx="1.3" opacity="0.35"/>
<rect x="752.7" y="1091.1" width="2" height="33.9" rx="1.0" opacity="0.15"/>
</g></g>
<rect x="605.0" y="1085.5" width="159.8" height="41.5" fill="url(#vg)"/>
<rect x="605.0" y="1085.5" width="159.8" height="41.5" fill="#fff" opacity=".09" filter="url(#nz)"/>
<rect x="605.5" y="1086.0" width="158.8" height="40.5" fill="none" stroke="#fff" stroke-opacity=".16" stroke-width=".8"/>
<clipPath id="c17"><rect x="605.0" y="1142.0" width="159.8" height="42.0"/></clipPath>
<rect x="602.0" y="1139.0" width="165.8" height="48.0" rx="1.2" fill="#000"/>
<rect x="605.0" y="1142.0" width="159.8" height="42.0" fill="#323232"/>
<g clip-path="url(#c17)">
<g filter="url(#hz)">
<ellipse cx="618.2" cy="1163.0" rx="10" ry="29.4" fill="#000" opacity="0.15"/>
<ellipse cx="711.0" cy="1179.8" rx="60" ry="10.5" fill="#fff" opacity="0.08"/>
</g>
<g filter="url(#b)" fill="#fff">
<rect x="616.8" y="1146.2" width="2" height="34.4" rx="1.0" opacity="0.30"/>
<rect x="637.2" y="1146.1" width="2.4" height="33.9" rx="1.2" opacity="0.50"/>
<rect x="641.3" y="1146.0" width="3" height="33.6" rx="1.5" opacity="0.80"/>
<rect x="651.3" y="1145.9" width="2.4" height="33.0" rx="1.2" opacity="0.50"/>
<rect x="668.6" y="1145.7" width="2" height="31.9" rx="1.0" opacity="0.40"/>
<rect x="673.7" y="1145.6" width="2" height="31.6" rx="1.0" opacity="0.45"/>
<rect x="678.2" y="1145.6" width="2.2" height="31.3" rx="1.1" opacity="0.50"/>
<rect x="698.9" y="1145.3" width="2" height="29.9" rx="1.0" opacity="0.45"/>
<rect x="702.9" y="1145.2" width="2" height="29.7" rx="1.0" opacity="0.50"/>
<rect x="706.4" y="1145.2" width="3" height="29.4" rx="1.5" opacity="0.90"/>
<rect x="714.2" y="1145.1" width="2.4" height="28.9" rx="1.2" opacity="0.60"/>
<rect x="722.1" y="1145.0" width="2" height="28.4" rx="1.0" opacity="0.40"/>
<rect x="727.1" y="1144.9" width="2" height="28.1" rx="1.0" opacity="0.40"/>
<rect x="733.1" y="1144.9" width="2.2" height="27.7" rx="1.1" opacity="0.45"/>
<rect x="738.1" y="1144.8" width="2.2" height="27.4" rx="1.1" opacity="0.50"/>
<rect x="741.9" y="1144.7" width="2.6" height="27.1" rx="1.3" opacity="0.55"/>
<rect x="750.3" y="1144.6" width="2" height="26.6" rx="1.0" opacity="0.15"/>
<rect x="756.3" y="1144.6" width="2" height="26.2" rx="1.0" opacity="0.15"/>
</g></g>
<rect x="605.0" y="1142.0" width="159.8" height="42.0" fill="url(#vg)"/>
<rect x="605.0" y="1142.0" width="159.8" height="42.0" fill="#fff" opacity=".09" filter="url(#nz)"/>
<rect x="605.5" y="1142.5" width="158.8" height="41.0" fill="none" stroke="#fff" stroke-opacity=".16" stroke-width=".8"/>
<clipPath id="c18"><rect x="605.0" y="1204.7" width="159.8" height="40.1"/></clipPath>
<rect x="602.0" y="1201.7" width="165.8" height="46.1" rx="1.2" fill="#000"/>
<rect x="605.0" y="1204.7" width="159.8" height="40.1" fill="#323232"/>
<g clip-path="url(#c18)">
<g filter="url(#b)" fill="#fff">
<rect x="620.8" y="1206.3" width="2.2" height="37.3" rx="1.1" opacity="0.55"/>
<rect x="643.5" y="1206.8" width="2.6" height="36.7" rx="1.3" opacity="0.55"/>
<rect x="649.2" y="1206.9" width="2.6" height="36.4" rx="1.3" opacity="0.55"/>
<rect x="657.4" y="1207.2" width="4.4" height="36.0" rx="2.2" opacity="0.70"/>
<rect x="676.9" y="1207.8" width="2.4" height="35.2" rx="1.2" opacity="0.55"/>
<rect x="693.2" y="1208.3" width="2.4" height="34.5" rx="1.2" opacity="0.55"/>
<rect x="708.3" y="1208.8" width="3.4" height="33.8" rx="1.7" opacity="0.75"/>
<rect x="722.5" y="1209.2" width="2.4" height="33.2" rx="1.2" opacity="0.60"/>
<rect x="727.6" y="1209.4" width="3" height="33.0" rx="1.5" opacity="0.85"/>
<rect x="736.9" y="1209.6" width="2.6" height="32.6" rx="1.3" opacity="0.45"/>
<rect x="742.8" y="1209.8" width="2.8" height="32.4" rx="1.4" opacity="0.40"/>
<rect x="752.7" y="1210.1" width="2" height="32.0" rx="1.0" opacity="0.15"/>
</g></g>
<rect x="605.0" y="1204.7" width="159.8" height="40.1" fill="url(#vg)"/>
<rect x="605.0" y="1204.7" width="159.8" height="40.1" fill="#fff" opacity=".09" filter="url(#nz)"/>
<rect x="605.5" y="1205.2" width="158.8" height="39.1" fill="none" stroke="#fff" stroke-opacity=".16" stroke-width=".8"/>
<clipPath id="c19"><rect x="604.0" y="1261.5" width="160.0" height="41.0"/></clipPath>
<rect x="601.0" y="1258.5" width="166.0" height="47.0" rx="1.2" fill="#000"/>
<rect x="604.0" y="1261.5" width="160.0" height="41.0" fill="#5f5f5f"/>
<g clip-path="url(#c19)">
<g filter="url(#hz)">
<ellipse cx="690.8" cy="1277.9" rx="60" ry="20.5" fill="#fff" opacity="0.05"/>
</g>
<g filter="url(#b)" fill="#fff">
<rect x="625.9" y="1265.6" width="2" height="32.8" rx="1.0" opacity="0.22"/>
<rect x="646.5" y="1265.6" width="2" height="32.2" rx="1.0" opacity="0.20"/>
<rect x="649.5" y="1265.6" width="2" height="32.2" rx="1.0" opacity="0.20"/>
<rect x="658.7" y="1265.6" width="3" height="31.8" rx="1.5" opacity="0.32"/>
<rect x="677.4" y="1265.6" width="2.6" height="31.3" rx="1.3" opacity="0.30"/>
<rect x="694.0" y="1265.6" width="2.4" height="30.7" rx="1.2" opacity="0.30"/>
<rect x="711.0" y="1265.6" width="2" height="30.2" rx="1.0" opacity="0.20"/>
<rect x="726.1" y="1265.6" width="2" height="29.7" rx="1.0" opacity="0.20"/>
<rect x="731.4" y="1265.6" width="2.6" height="29.6" rx="1.3" opacity="0.50"/>
<rect x="738.1" y="1265.6" width="2.2" height="29.4" rx="1.1" opacity="0.30"/>
<rect x="743.1" y="1265.6" width="2.2" height="29.2" rx="1.1" opacity="0.32"/>
<rect x="747.2" y="1265.6" width="2.2" height="29.1" rx="1.1" opacity="0.28"/>
</g></g>
<rect x="604.0" y="1261.5" width="160.0" height="41.0" fill="url(#vg)"/>
<rect x="604.0" y="1261.5" width="160.0" height="41.0" fill="#fff" opacity=".09" filter="url(#nz)"/>
<rect x="604.5" y="1262.0" width="159.0" height="40.0" fill="none" stroke="#fff" stroke-opacity=".16" stroke-width=".8"/>
<clipPath id="c20"><rect x="604.7" y="1321.6" width="159.7" height="38.7"/></clipPath>
<rect x="601.7" y="1318.6" width="165.7" height="44.7" rx="1.2" fill="#000"/>
<rect x="604.7" y="1321.6" width="159.7" height="38.7" fill="#2e2e2e"/>
<g clip-path="url(#c20)">
<g filter="url(#hz)">
<ellipse cx="624.3" cy="1340.9" rx="24" ry="31.0" fill="#000" opacity="0.25"/>
</g>
<g filter="url(#b)" fill="#fff">
<rect x="651.5" y="1325.5" width="2" height="31.0" rx="1.0" opacity="0.30"/>
<rect x="658.6" y="1325.5" width="4" height="31.0" rx="2.0" opacity="0.40"/>
<rect x="667.3" y="1325.5" width="2.6" height="31.0" rx="1.3" opacity="0.45"/>
<rect x="673.7" y="1325.5" width="2" height="31.0" rx="1.0" opacity="0.30"/>
<rect x="687.2" y="1325.5" width="2.4" height="31.0" rx="1.2" opacity="0.65"/>
<rect x="691.3" y="1325.5" width="2.2" height="31.0" rx="1.1" opacity="0.60"/>
<rect x="695.0" y="1325.5" width="2.4" height="31.0" rx="1.2" opacity="0.60"/>
<rect x="707.0" y="1325.5" width="4" height="31.0" rx="2.0" opacity="0.50"/>
<rect x="713.4" y="1325.5" width="3.2" height="31.0" rx="1.6" opacity="0.70"/>
<rect x="720.6" y="1325.5" width="3" height="31.0" rx="1.5" opacity="0.25"/>
<rect x="728.1" y="1325.5" width="6" height="31.0" rx="3.0" opacity="0.42"/>
<rect x="741.2" y="1325.5" width="4" height="31.0" rx="2.0" opacity="0.12"/>
<rect x="749.3" y="1325.5" width="4" height="31.0" rx="2.0" opacity="0.10"/>
</g></g>
<rect x="604.7" y="1321.6" width="159.7" height="38.7" fill="url(#vg)"/>
<rect x="604.7" y="1321.6" width="159.7" height="38.7" fill="#fff" opacity=".09" filter="url(#nz)"/>
<rect x="605.2" y="1322.1" width="158.7" height="37.7" fill="none" stroke="#fff" stroke-opacity=".16" stroke-width=".8"/>
<clipPath id="c21"><rect x="605.0" y="1382.0" width="159.5" height="36.0"/></clipPath>
<rect x="602.0" y="1379.0" width="165.5" height="42.0" rx="1.2" fill="#000"/>
<rect x="605.0" y="1382.0" width="159.5" height="36.0" fill="#2e2e2e"/>
<g clip-path="url(#c21)">
<g filter="url(#hz)">
<ellipse cx="624.3" cy="1400.0" rx="24" ry="28.8" fill="#000" opacity="0.25"/>
</g>
<g filter="url(#b)" fill="#fff">
<rect x="651.5" y="1385.6" width="2" height="29.5" rx="1.0" opacity="0.30"/>
<rect x="658.6" y="1385.6" width="4" height="29.5" rx="2.0" opacity="0.40"/>
<rect x="667.3" y="1385.6" width="2.6" height="29.5" rx="1.3" opacity="0.45"/>
<rect x="673.7" y="1385.6" width="2" height="29.5" rx="1.0" opacity="0.30"/>
<rect x="687.2" y="1385.6" width="2.4" height="29.5" rx="1.2" opacity="0.65"/>
<rect x="691.3" y="1385.6" width="2.2" height="29.5" rx="1.1" opacity="0.60"/>
<rect x="695.0" y="1385.6" width="2.4" height="29.5" rx="1.2" opacity="0.60"/>
<rect x="707.0" y="1385.6" width="4" height="29.5" rx="2.0" opacity="0.50"/>
<rect x="713.4" y="1385.6" width="3.2" height="29.5" rx="1.6" opacity="0.70"/>
<rect x="720.6" y="1385.6" width="3" height="29.5" rx="1.5" opacity="0.25"/>
<rect x="728.1" y="1385.6" width="6" height="29.5" rx="3.0" opacity="0.42"/>
<rect x="741.2" y="1385.6" width="4" height="29.5" rx="2.0" opacity="0.12"/>
<rect x="749.3" y="1385.6" width="4" height="29.5" rx="2.0" opacity="0.10"/>
</g></g>
<rect x="605.0" y="1382.0" width="159.5" height="36.0" fill="url(#vg)"/>
<rect x="605.0" y="1382.0" width="159.5" height="36.0" fill="#fff" opacity=".09" filter="url(#nz)"/>
<rect x="605.5" y="1382.5" width="158.5" height="35.0" fill="none" stroke="#fff" stroke-opacity=".16" stroke-width=".8"/>
<clipPath id="c22"><rect x="606.3" y="1439.5" width="159.3" height="37.0"/></clipPath>
<rect x="603.3" y="1436.5" width="165.3" height="43.0" rx="1.2" fill="#000"/>
<rect x="606.3" y="1439.5" width="159.3" height="37.0" fill="#5b5b5b"/>
<g clip-path="url(#c22)">
<g filter="url(#b)" fill="#fff">
<rect x="633.2" y="1446.7" width="2.4" height="26.4" rx="1.2" opacity="0.32"/>
<rect x="648.5" y="1446.1" width="2" height="25.8" rx="1.0" opacity="0.22"/>
<rect x="652.5" y="1446.0" width="2" height="25.6" rx="1.0" opacity="0.22"/>
<rect x="663.0" y="1445.5" width="2.4" height="25.1" rx="1.2" opacity="0.30"/>
<rect x="669.4" y="1445.3" width="2.4" height="24.8" rx="1.2" opacity="0.30"/>
<rect x="677.5" y="1445.0" width="2.4" height="24.4" rx="1.2" opacity="0.30"/>
<rect x="698.8" y="1444.1" width="2.2" height="23.5" rx="1.1" opacity="0.20"/>
<rect x="709.4" y="1443.7" width="2.4" height="23.0" rx="1.2" opacity="0.50"/>
<rect x="716.0" y="1443.4" width="2" height="22.7" rx="1.0" opacity="0.22"/>
<rect x="721.1" y="1443.2" width="2" height="22.4" rx="1.0" opacity="0.18"/>
<rect x="725.9" y="1443.0" width="2.4" height="22.2" rx="1.2" opacity="0.30"/>
<rect x="734.2" y="1442.7" width="2" height="21.9" rx="1.0" opacity="0.22"/>
<rect x="739.2" y="1442.5" width="2" height="21.6" rx="1.0" opacity="0.22"/>
<rect x="745.2" y="1442.3" width="2" height="21.3" rx="1.0" opacity="0.20"/>
</g></g>
<rect x="606.3" y="1439.5" width="159.3" height="37.0" fill="url(#vg)"/>
<rect x="606.3" y="1439.5" width="159.3" height="37.0" fill="#fff" opacity=".09" filter="url(#nz)"/>
<rect x="606.8" y="1440.0" width="158.3" height="36.0" fill="none" stroke="#fff" stroke-opacity=".16" stroke-width=".8"/>
<clipPath id="c23"><rect x="606.1" y="1497.6" width="159.5" height="35.1"/></clipPath>
<rect x="603.1" y="1494.6" width="165.5" height="41.1" rx="1.2" fill="#000"/>
<rect x="606.1" y="1497.6" width="159.5" height="35.1" fill="#595959"/>
<g clip-path="url(#c23)">
<g filter="url(#b)" fill="#fff">
<rect x="633.2" y="1504.5" width="2.4" height="25.1" rx="1.2" opacity="0.30"/>
<rect x="648.5" y="1503.9" width="2" height="24.4" rx="1.0" opacity="0.20"/>
<rect x="652.5" y="1503.7" width="2" height="24.3" rx="1.0" opacity="0.20"/>
<rect x="663.0" y="1503.3" width="2.4" height="23.8" rx="1.2" opacity="0.25"/>
<rect x="669.4" y="1503.1" width="2.4" height="23.5" rx="1.2" opacity="0.25"/>
<rect x="677.5" y="1502.8" width="2.4" height="23.2" rx="1.2" opacity="0.28"/>
<rect x="698.8" y="1502.0" width="2.2" height="22.3" rx="1.1" opacity="0.20"/>
<rect x="709.4" y="1501.6" width="2.4" height="21.8" rx="1.2" opacity="0.38"/>
<rect x="716.0" y="1501.3" width="2" height="21.5" rx="1.0" opacity="0.22"/>
<rect x="725.9" y="1500.9" width="2.4" height="21.1" rx="1.2" opacity="0.30"/>
<rect x="734.2" y="1500.6" width="2" height="20.7" rx="1.0" opacity="0.22"/>
<rect x="739.2" y="1500.5" width="2" height="20.5" rx="1.0" opacity="0.20"/>
<rect x="745.2" y="1500.2" width="2" height="20.3" rx="1.0" opacity="0.20"/>
</g></g>
<rect x="606.1" y="1497.6" width="159.5" height="35.1" fill="url(#vg)"/>
<rect x="606.1" y="1497.6" width="159.5" height="35.1" fill="#fff" opacity=".09" filter="url(#nz)"/>
<rect x="606.6" y="1498.1" width="158.5" height="34.1" fill="none" stroke="#fff" stroke-opacity=".16" stroke-width=".8"/>
<clipPath id="c24"><rect x="606.3" y="1555.0" width="159.3" height="34.4"/></clipPath>
<rect x="603.3" y="1552.0" width="165.3" height="40.4" rx="1.2" fill="#000"/>
<rect x="606.3" y="1555.0" width="159.3" height="34.4" fill="#575757"/>
<g clip-path="url(#c24)">
<g filter="url(#b)" fill="#fff">
<rect x="635.2" y="1561.6" width="2.4" height="24.5" rx="1.2" opacity="0.30"/>
<rect x="651.5" y="1561.0" width="2" height="23.8" rx="1.0" opacity="0.20"/>
<rect x="655.5" y="1560.9" width="2" height="23.6" rx="1.0" opacity="0.22"/>
<rect x="666.5" y="1560.5" width="2.2" height="23.2" rx="1.1" opacity="0.25"/>
<rect x="671.6" y="1560.3" width="2.2" height="23.0" rx="1.1" opacity="0.28"/>
<rect x="681.6" y="1559.9" width="2.2" height="22.5" rx="1.1" opacity="0.28"/>
<rect x="701.8" y="1559.2" width="2.2" height="21.7" rx="1.1" opacity="0.18"/>
<rect x="713.4" y="1558.7" width="2.4" height="21.2" rx="1.2" opacity="0.38"/>
<rect x="720.0" y="1558.5" width="2" height="20.9" rx="1.0" opacity="0.18"/>
<rect x="729.0" y="1558.2" width="2.2" height="20.5" rx="1.1" opacity="0.22"/>
<rect x="737.2" y="1557.9" width="2" height="20.2" rx="1.0" opacity="0.20"/>
<rect x="743.2" y="1557.6" width="2" height="19.9" rx="1.0" opacity="0.20"/>
<rect x="749.3" y="1557.4" width="2" height="19.7" rx="1.0" opacity="0.20"/>
</g></g>
<rect x="606.3" y="1555.0" width="159.3" height="34.4" fill="url(#vg)"/>
<rect x="606.3" y="1555.0" width="159.3" height="34.4" fill="#fff" opacity=".09" filter="url(#nz)"/>
<rect x="606.8" y="1555.5" width="158.3" height="33.4" fill="none" stroke="#fff" stroke-opacity=".16" stroke-width=".8"/>
<clipPath id="c25"><rect x="604.7" y="1617.0" width="159.3" height="34.3"/></clipPath>
<rect x="601.7" y="1614.0" width="165.3" height="40.3" rx="1.2" fill="#000"/>
<rect x="604.7" y="1617.0" width="159.3" height="34.3" fill="#555555"/>
<g clip-path="url(#c25)">
<g filter="url(#b)" fill="#fff">
<rect x="638.9" y="1623.5" width="3" height="24.3" rx="1.5" opacity="0.32"/>
<rect x="652.2" y="1623.0" width="2.6" height="23.7" rx="1.3" opacity="0.30"/>
<rect x="658.6" y="1622.8" width="2" height="23.4" rx="1.0" opacity="0.20"/>
<rect x="666.5" y="1622.5" width="2.2" height="23.1" rx="1.1" opacity="0.25"/>
<rect x="671.5" y="1622.3" width="2.4" height="22.9" rx="1.2" opacity="0.30"/>
<rect x="677.6" y="1622.1" width="2.2" height="22.6" rx="1.1" opacity="0.25"/>
<rect x="699.8" y="1621.2" width="2.2" height="21.7" rx="1.1" opacity="0.25"/>
<rect x="704.1" y="1621.1" width="2.4" height="21.5" rx="1.2" opacity="0.30"/>
<rect x="713.0" y="1620.8" width="2" height="21.2" rx="1.0" opacity="0.15"/>
<rect x="720.0" y="1620.5" width="2" height="20.9" rx="1.0" opacity="0.15"/>
<rect x="732.1" y="1620.0" width="2" height="20.3" rx="1.0" opacity="0.15"/>
<rect x="738.2" y="1619.8" width="2" height="20.1" rx="1.0" opacity="0.15"/>
</g></g>
<rect x="604.7" y="1617.0" width="159.3" height="34.3" fill="url(#vg)"/>
<rect x="604.7" y="1617.0" width="159.3" height="34.3" fill="#fff" opacity=".09" filter="url(#nz)"/>
<rect x="605.2" y="1617.5" width="158.3" height="33.3" fill="none" stroke="#fff" stroke-opacity=".16" stroke-width=".8"/>
<clipPath id="c26"><rect x="604.7" y="1673.8" width="159.3" height="34.0"/></clipPath>
<rect x="601.7" y="1670.8" width="165.3" height="40.0" rx="1.2" fill="#000"/>
<rect x="604.7" y="1673.8" width="159.3" height="34.0" fill="#4d4d4d"/>
<g clip-path="url(#c26)">
<g filter="url(#hz)">
<ellipse cx="739.2" cy="1684.0" rx="30" ry="10.2" fill="#fff" opacity="0.1"/>
</g>
<g filter="url(#b)" fill="#fff">
<rect x="636.4" y="1680.3" width="2" height="24.2" rx="1.0" opacity="0.12"/>
<rect x="649.5" y="1679.8" width="2" height="23.6" rx="1.0" opacity="0.12"/>
<rect x="655.5" y="1679.6" width="2" height="23.4" rx="1.0" opacity="0.12"/>
<rect x="666.4" y="1679.2" width="2.4" height="22.9" rx="1.2" opacity="0.20"/>
<rect x="673.5" y="1679.0" width="2.4" height="22.6" rx="1.2" opacity="0.22"/>
<rect x="699.9" y="1678.0" width="4" height="21.5" rx="2.0" opacity="0.25"/>
<rect x="712.0" y="1677.6" width="2" height="21.0" rx="1.0" opacity="0.15"/>
<rect x="718.0" y="1677.3" width="2" height="20.8" rx="1.0" opacity="0.15"/>
<rect x="731.1" y="1676.8" width="4" height="20.2" rx="2.0" opacity="0.20"/>
<rect x="737.7" y="1676.6" width="3" height="19.9" rx="1.5" opacity="0.20"/>
<rect x="743.7" y="1676.4" width="3" height="19.7" rx="1.5" opacity="0.20"/>
<rect x="751.8" y="1676.1" width="3" height="19.3" rx="1.5" opacity="0.18"/>
</g></g>
<rect x="604.7" y="1673.8" width="159.3" height="34.0" fill="url(#vg)"/>
<rect x="604.7" y="1673.8" width="159.3" height="34.0" fill="#fff" opacity=".09" filter="url(#nz)"/>
<rect x="605.2" y="1674.3" width="158.3" height="33.0" fill="none" stroke="#fff" stroke-opacity=".16" stroke-width=".8"/>
<clipPath id="c27"><rect x="604.7" y="1730.9" width="159.3" height="32.7"/></clipPath>
<rect x="601.7" y="1727.9" width="165.3" height="38.7" rx="1.2" fill="#000"/>
<rect x="604.7" y="1730.9" width="159.3" height="32.7" fill="#595959"/>
<g clip-path="url(#c27)">
<g filter="url(#b)" fill="#fff">
<rect x="640.4" y="1737.0" width="4" height="23.0" rx="2.0" opacity="0.30"/>
<rect x="654.2" y="1736.5" width="2.6" height="22.5" rx="1.3" opacity="0.30"/>
<rect x="659.5" y="1736.4" width="2.2" height="22.3" rx="1.1" opacity="0.25"/>
<rect x="670.5" y="1736.0" width="2.4" height="21.9" rx="1.2" opacity="0.25"/>
<rect x="675.5" y="1735.8" width="2.4" height="21.7" rx="1.2" opacity="0.30"/>
<rect x="680.5" y="1735.6" width="2.4" height="21.5" rx="1.2" opacity="0.28"/>
<rect x="702.9" y="1734.8" width="4" height="20.5" rx="2.0" opacity="0.32"/>
<rect x="716.0" y="1734.4" width="2" height="20.0" rx="1.0" opacity="0.18"/>
<rect x="721.1" y="1734.2" width="2" height="19.8" rx="1.0" opacity="0.18"/>
<rect x="737.1" y="1733.6" width="2.2" height="19.2" rx="1.1" opacity="0.18"/>
<rect x="742.1" y="1733.5" width="2.2" height="19.0" rx="1.1" opacity="0.15"/>
</g></g>
<rect x="604.7" y="1730.9" width="159.3" height="32.7" fill="url(#vg)"/>
<rect x="604.7" y="1730.9" width="159.3" height="32.7" fill="#fff" opacity=".09" filter="url(#nz)"/>
<rect x="605.2" y="1731.4" width="158.3" height="31.7" fill="none" stroke="#fff" stroke-opacity=".16" stroke-width=".8"/>
<clipPath id="c28"><rect x="604.0" y="1788.2" width="159.6" height="33.8"/></clipPath>
<rect x="601.0" y="1785.2" width="165.6" height="39.8" rx="1.2" fill="#000"/>
<rect x="604.0" y="1788.2" width="159.6" height="33.8" fill="#2e2e2e"/>
<g clip-path="url(#c28)">
<g filter="url(#hz)">
<ellipse cx="616.2" cy="1805.1" rx="14" ry="23.7" fill="#000" opacity="0.25"/>
<ellipse cx="711.0" cy="1816.9" rx="60" ry="10.1" fill="#fff" opacity="0.07"/>
</g>
<g filter="url(#b)" fill="#fff">
<rect x="634.9" y="1796.3" width="3" height="20.0" rx="1.5" opacity="0.65"/>
<rect x="648.3" y="1795.7" width="2.4" height="19.4" rx="1.2" opacity="0.60"/>
<rect x="653.6" y="1795.4" width="2.6" height="19.1" rx="1.3" opacity="0.60"/>
<rect x="664.5" y="1794.9" width="2.2" height="18.6" rx="1.1" opacity="0.55"/>
<rect x="668.5" y="1794.7" width="2.2" height="18.4" rx="1.1" opacity="0.60"/>
<rect x="675.0" y="1794.4" width="2.6" height="18.1" rx="1.3" opacity="0.65"/>
<rect x="697.8" y="1793.2" width="2.6" height="17.0" rx="1.3" opacity="0.62"/>
<rect x="700.8" y="1793.1" width="2.6" height="16.9" rx="1.3" opacity="0.60"/>
<rect x="710.3" y="1792.6" width="2.2" height="16.5" rx="1.1" opacity="0.50"/>
<rect x="715.5" y="1792.4" width="2.2" height="16.2" rx="1.1" opacity="0.50"/>
<rect x="729.9" y="1791.7" width="2.4" height="15.5" rx="1.2" opacity="0.40"/>
<rect x="736.0" y="1791.4" width="2.4" height="15.3" rx="1.2" opacity="0.35"/>
<rect x="745.2" y="1790.9" width="2" height="14.8" rx="1.0" opacity="0.22"/>
<rect x="750.3" y="1790.7" width="2" height="14.6" rx="1.0" opacity="0.20"/>
</g></g>
<rect x="604.0" y="1788.2" width="159.6" height="33.8" fill="url(#vg)"/>
<rect x="604.0" y="1788.2" width="159.6" height="33.8" fill="#fff" opacity=".09" filter="url(#nz)"/>
<rect x="604.5" y="1788.7" width="158.6" height="32.8" fill="none" stroke="#fff" stroke-opacity=".16" stroke-width=".8"/>
<clipPath id="c29"><rect x="605.0" y="1847.2" width="159.5" height="35.4"/></clipPath>
<rect x="602.0" y="1844.2" width="165.5" height="41.4" rx="1.2" fill="#000"/>
<rect x="605.0" y="1847.2" width="159.5" height="35.4" fill="#4f4f4f"/>
<g clip-path="url(#c29)">
<g filter="url(#b)" fill="#fff">
<rect x="625.3" y="1854.3" width="2" height="25.5" rx="1.0" opacity="0.06"/>
<rect x="642.4" y="1853.8" width="2" height="24.9" rx="1.0" opacity="0.10"/>
<rect x="653.5" y="1853.3" width="2" height="24.4" rx="1.0" opacity="0.10"/>
<rect x="669.4" y="1852.7" width="2.4" height="23.7" rx="1.2" opacity="0.10"/>
<rect x="675.5" y="1852.5" width="2.4" height="23.5" rx="1.2" opacity="0.12"/>
<rect x="680.5" y="1852.3" width="2.4" height="23.2" rx="1.2" opacity="0.10"/>
<rect x="685.8" y="1852.1" width="2" height="23.0" rx="1.0" opacity="0.10"/>
<rect x="701.7" y="1851.5" width="2.4" height="22.3" rx="1.2" opacity="0.12"/>
<rect x="709.7" y="1851.2" width="2.6" height="22.0" rx="1.3" opacity="0.18"/>
<rect x="718.0" y="1850.9" width="2" height="21.6" rx="1.0" opacity="0.12"/>
<rect x="728.0" y="1850.5" width="2.2" height="21.2" rx="1.1" opacity="0.12"/>
<rect x="737.1" y="1850.2" width="2.2" height="20.8" rx="1.1" opacity="0.12"/>
<rect x="745.0" y="1849.8" width="2.6" height="20.4" rx="1.3" opacity="0.15"/>
</g></g>
<rect x="605.0" y="1847.2" width="159.5" height="35.4" fill="url(#vg)"/>
<rect x="605.0" y="1847.2" width="159.5" height="35.4" fill="#fff" opacity=".09" filter="url(#nz)"/>
<rect x="605.5" y="1847.7" width="158.5" height="34.4" fill="none" stroke="#fff" stroke-opacity=".16" stroke-width=".8"/>
</g>
<g id="labels">
<text x="520.4" y="180.3" font-size="33" text-anchor="start">Env1</text>
<text x="837.3" y="191.5" font-size="34" text-anchor="middle">304</text>
<text x="947.3" y="190.9" font-size="33.8" text-anchor="middle">ENV</text>
<text x="520.4" y="238.4" font-size="33" text-anchor="start">Env2</text>
<text x="837.3" y="248.9" font-size="34" text-anchor="middle">304</text>
<text x="947.3" y="247.9" font-size="33.8" text-anchor="middle">ENV</text>
<text x="520.4" y="296.9" font-size="33" text-anchor="start">Env6</text>
<text x="837.3" y="306.0" font-size="34" text-anchor="middle">304</text>
<text x="947.3" y="304.9" font-size="33.8" text-anchor="middle">ENV</text>
<text x="520.4" y="354.7" font-size="33" text-anchor="start">Env7</text>
<text x="837.3" y="363.4" font-size="34" text-anchor="middle">304</text>
<text x="947.3" y="362.0" font-size="33.8" text-anchor="middle">ENV</text>
<text x="520.4" y="412.6" font-size="33" text-anchor="start">Env8</text>
<text x="837.3" y="421.0" font-size="34" text-anchor="middle">304</text>
<text x="947.3" y="420.0" font-size="33.8" text-anchor="middle">ENV</text>
<text x="520.4" y="471.7" font-size="33.6" text-anchor="start">899H</text>
<text x="837.3" y="477.6" font-size="34" text-anchor="middle">304</text>
<text x="947.3" y="476.4" font-size="33.8" text-anchor="middle">BC</text>
<text x="520.4" y="532.0" font-size="33.6" text-anchor="start">483H</text>
<text x="837.3" y="535.0" font-size="34" text-anchor="middle">304</text>
<text x="947.3" y="534.0" font-size="33.8" text-anchor="middle">BC</text>
<text x="520.4" y="589.4" font-size="33.6" text-anchor="start">41H</text>
<text x="837.3" y="592.5" font-size="34" text-anchor="middle">304</text>
<text x="947.3" y="591.9" font-size="33.8" text-anchor="middle">BC</text>
<text x="520.4" y="647.5" font-size="33.6" text-anchor="start">50H</text>
<text x="837.3" y="650.0" font-size="34" text-anchor="middle">304</text>
<text x="947.3" y="649.3" font-size="33.8" text-anchor="middle">BC</text>
<text x="520.4" y="705.7" font-size="33.6" text-anchor="start">488H</text>
<text x="837.3" y="707.4" font-size="34" text-anchor="middle">304</text>
<text x="947.3" y="706.4" font-size="33.8" text-anchor="middle">BC</text>
<text x="520.4" y="763.8" font-size="33.6" text-anchor="start">499H</text>
<text x="837.3" y="766.4" font-size="34" text-anchor="middle">304</text>
<text x="947.3" y="766.0" font-size="33.8" text-anchor="middle">BC</text>
<text x="520.4" y="821.9" font-size="33.6" text-anchor="start">63H</text>
<text x="837.3" y="827.7" font-size="34" text-anchor="middle">304</text>
<text x="947.3" y="826.7" font-size="33.8" text-anchor="middle">BC</text>
<text x="520.4" y="883.4" font-size="33.6" text-anchor="start">695H</text>
<text x="837.3" y="885.8" font-size="34" text-anchor="middle">239</text>
<text x="947.3" y="884.5" font-size="33.8" text-anchor="middle">BC</text>
<text x="520.4" y="941.9" font-size="33.6" text-anchor="start">717H</text>
<text x="837.3" y="945.8" font-size="34" text-anchor="middle">239</text>
<text x="947.3" y="944.8" font-size="33.8" text-anchor="middle">BC</text>
<text x="520.4" y="999.8" font-size="33.6" text-anchor="start">723H</text>
<text x="837.3" y="1006.3" font-size="34" text-anchor="middle">239</text>
<text x="947.3" y="1005.9" font-size="33.8" text-anchor="middle">BC</text>
<text x="520.4" y="1057.9" font-size="33.6" text-anchor="start">635H</text>
<text x="837.3" y="1064.5" font-size="34" text-anchor="middle">239</text>
<text x="947.3" y="1063.3" font-size="33.8" text-anchor="middle">BC</text>
<text x="520.4" y="1116.1" font-size="33.6" text-anchor="start">385H</text>
<text x="837.3" y="1122.0" font-size="34" text-anchor="middle">239</text>
<text x="947.3" y="1121.0" font-size="33.8" text-anchor="middle">BC</text>
<text x="520.4" y="1174.2" font-size="33.6" text-anchor="start">653U</text>
<text x="837.3" y="1178.6" font-size="34" text-anchor="middle">239</text>
<text x="947.3" y="1178.0" font-size="33.8" text-anchor="middle">UC</text>
<text x="520.4" y="1234.7" font-size="33.6" text-anchor="start">339H</text>
<text x="837.3" y="1236.0" font-size="34" text-anchor="middle">239</text>
<text x="947.3" y="1235.0" font-size="33.8" text-anchor="middle">BC</text>
<text x="520.4" y="1293.0" font-size="33.6" text-anchor="start">581H</text>
<text x="837.3" y="1293.4" font-size="34" text-anchor="middle">239</text>
<text x="947.3" y="1292.6" font-size="33.8" text-anchor="middle">BC</text>
<text x="520.4" y="1352.0" font-size="33.6" text-anchor="start">160U</text>
<text x="837.3" y="1350.9" font-size="34" text-anchor="middle">150</text>
<text x="947.3" y="1349.9" font-size="33.8" text-anchor="middle">UC</text>
<text x="520.4" y="1409.9" font-size="33.6" text-anchor="start">178U</text>
<text x="837.3" y="1411.0" font-size="34" text-anchor="middle">150</text>
<text x="947.3" y="1410.0" font-size="33.8" text-anchor="middle">UC</text>
<text x="520.4" y="1468.3" font-size="33" text-anchor="start">Env3</text>
<text x="837.3" y="1471.0" font-size="34" text-anchor="middle">304</text>
<text x="947.3" y="1468.0" font-size="33.8" text-anchor="middle">ENV</text>
<text x="520.4" y="1526.2" font-size="33" text-anchor="start">Env4</text>
<text x="837.3" y="1529.0" font-size="34" text-anchor="middle">304</text>
<text x="947.3" y="1525.6" font-size="33.8" text-anchor="middle">ENV</text>
<text x="520.4" y="1586.3" font-size="33.6" text-anchor="start">35H</text>
<text x="837.3" y="1586.7" font-size="34" text-anchor="middle">304</text>
<text x="947.3" y="1582.6" font-size="33.8" text-anchor="middle">BC</text>
<text x="520.4" y="1645.2" font-size="33" text-anchor="start">Env5</text>
<text x="837.3" y="1646.6" font-size="34" text-anchor="middle">24</text>
<text x="947.3" y="1642.1" font-size="33.8" text-anchor="middle">ENV</text>
<text x="520.4" y="1703.5" font-size="33.6" text-anchor="start">931H</text>
<text x="837.3" y="1707.2" font-size="34" text-anchor="middle">24</text>
<text x="947.3" y="1703.1" font-size="33.8" text-anchor="middle">BC</text>
<text x="520.4" y="1761.4" font-size="33" text-anchor="start">Env9</text>
<text x="837.3" y="1765.8" font-size="34" text-anchor="middle">24</text>
<text x="947.3" y="1761.6" font-size="33.8" text-anchor="middle">ENV</text>
<text x="520.4" y="1819.0" font-size="33.6" text-anchor="start">54H</text>
<text x="837.3" y="1822.7" font-size="34" text-anchor="middle">24</text>
<text x="947.3" y="1818.8" font-size="33.8" text-anchor="middle">BC</text>
<text x="520.4" y="1876.9" font-size="33.6" text-anchor="start">490U</text>
<text x="837.3" y="1879.3" font-size="34" text-anchor="middle">290</text>
<text x="947.3" y="1876.2" font-size="33.8" text-anchor="middle">BC</text>
<circle cx="591.3" cy="1443.6" r="1.7"/>
</g>
</svg>
</body></html>
